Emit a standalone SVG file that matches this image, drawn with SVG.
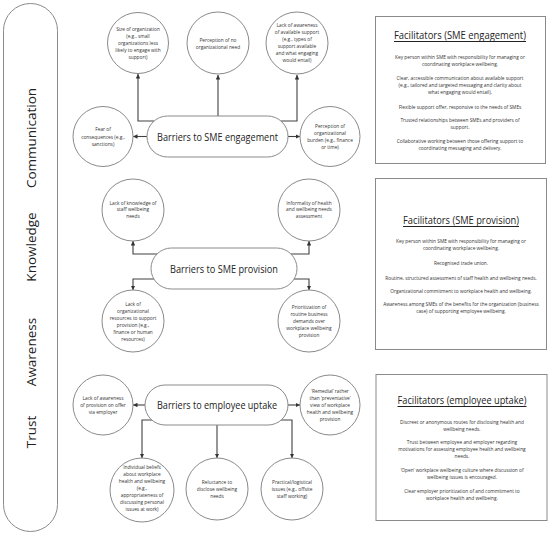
<svg xmlns="http://www.w3.org/2000/svg" width="550" height="534" viewBox="0 0 550 534">
<defs>
<marker id="ah" markerWidth="4.5" markerHeight="4.5" refX="4.5" refY="2.25" orient="auto" markerUnits="userSpaceOnUse"><path d="M0,0 L4.5,2.25 L0,4.5 z" fill="#333"/></marker>
</defs>
<style>
.band{fill:#fff;stroke:#8a8a8a;stroke-width:1}
.circ{fill:#fff;stroke:#8a8a8a;stroke-width:1}
.pill{fill:#fff;stroke:#8a8a8a;stroke-width:1}
.box{fill:#fff;stroke:#8a8a8a;stroke-width:1}
.conn{fill:none;stroke:#404040;stroke-width:1.1;marker-end:url(#ah)}
text{font-family:"Open Sans","Noto Sans",sans-serif;text-anchor:middle;dominant-baseline:central;fill:#333}
.ct{font-size:4.8px}
.lbl{font-size:10.5px;fill:#222}
.side{font-size:13.5px;fill:#222}
.ft{font-size:10px;text-decoration:underline;fill:#222}
.fb{font-size:4.8px}
</style>
<rect width="550" height="534" fill="#fff"/>
<g id="themes">
<rect class="band" x="3.5" y="3.5" width="54" height="528" rx="27" ry="27"/>
<text class="side" transform="translate(31,138) rotate(-90)">Communication</text>
<text class="side" transform="translate(31,247) rotate(-90)">Knowledge</text>
<text class="side" transform="translate(31,352) rotate(-90)">Awareness</text>
<text class="side" transform="translate(31,432) rotate(-90)">Trust</text>
</g>
<g id="connectors">
<path class="conn" d="M154,121 H138 V74"/>
<path class="conn" d="M218,116 V75"/>
<path class="conn" d="M281,121 H297 V75"/>
<path class="conn" d="M147,136.5 H133"/>
<path class="conn" d="M288,136.5 H300"/>
<path class="conn" d="M157,254 H133 V241"/>
<path class="conn" d="M291,254 H309 V241"/>
<path class="conn" d="M154,279 H133 V290"/>
<path class="conn" d="M294,279 H309 V290"/>
<path class="conn" d="M145,405 H133"/>
<path class="conn" d="M288,405 H300"/>
<path class="conn" d="M152,420 H142 V458"/>
<path class="conn" d="M217,425 V458"/>
<path class="conn" d="M281,420 H292 V458"/>
</g>
<g id="sme-engagement">
<rect class="pill" x="147" y="116" width="141" height="41" rx="20.5"/>
<text class="lbl" x="217.5" y="136.5" textLength="121" lengthAdjust="spacingAndGlyphs">Barriers to SME engagement</text>
</g>
<g id="size-org">
<circle class="circ" cx="138" cy="43" r="30.5"/>
<text class="ct"><tspan x="138" y="28.5">Size of organization</tspan><tspan x="138" y="35.5">(e.g., small</tspan><tspan x="138" y="42.5">organizations less</tspan><tspan x="138" y="49.5">likely to engage with</tspan><tspan x="138" y="56.5">support)</tspan></text>
</g>
<g id="no-need">
<circle class="circ" cx="218" cy="43" r="31"/>
<text class="ct"><tspan x="218" y="39.5">Perception of no</tspan><tspan x="218" y="46.5">organizational need</tspan></text>
</g>
<g id="lack-awareness-support">
<circle class="circ" cx="297" cy="43" r="31"/>
<text class="ct"><tspan x="297" y="25">Lack of awareness</tspan><tspan x="297" y="32">of available support</tspan><tspan x="297" y="39">(e.g., types of</tspan><tspan x="297" y="46">support available</tspan><tspan x="297" y="53">and what engaging</tspan><tspan x="297" y="60">would entail)</tspan></text>
</g>
<g id="fear">
<circle class="circ" cx="103" cy="136.5" r="30"/>
<text class="ct"><tspan x="103" y="129">Fear of</tspan><tspan x="103" y="136.5">consequences (e.g.,</tspan><tspan x="103" y="144">sanctions)</tspan></text>
</g>
<g id="burden">
<circle class="circ" cx="330" cy="136.5" r="30"/>
<text class="ct"><tspan x="330" y="126">Perception of</tspan><tspan x="330" y="133">organizational</tspan><tspan x="330" y="140">burden (e.g., finance</tspan><tspan x="330" y="147">or time)</tspan></text>
</g>
<g id="sme-provision">
<rect class="pill" x="151" y="248" width="146" height="41" rx="20.5"/>
<text class="lbl" x="224" y="268.5" textLength="108" lengthAdjust="spacingAndGlyphs">Barriers to SME provision</text>
</g>
<g id="lack-knowledge">
<circle class="circ" cx="133" cy="210" r="31"/>
<text class="ct"><tspan x="133" y="202.5">Lack of knowledge of</tspan><tspan x="133" y="209">staff wellbeing</tspan><tspan x="133" y="215.5">needs</tspan></text>
</g>
<g id="informality">
<circle class="circ" cx="309" cy="210" r="31"/>
<text class="ct"><tspan x="309" y="202.5">Informality of health</tspan><tspan x="309" y="209">and wellbeing needs</tspan><tspan x="309" y="215.5">assessment</tspan></text>
</g>
<g id="lack-resources">
<circle class="circ" cx="133" cy="321" r="31"/>
<text class="ct"><tspan x="133" y="303.5">Lack of</tspan><tspan x="133" y="310.5">organizational</tspan><tspan x="133" y="317.5">resources to support</tspan><tspan x="133" y="324.5">provision (e.g.,</tspan><tspan x="133" y="331.5">finance or human</tspan><tspan x="133" y="338.5">resources)</tspan></text>
</g>
<g id="prioritization">
<circle class="circ" cx="309" cy="321" r="31"/>
<text class="ct"><tspan x="309" y="307">Prioritization of</tspan><tspan x="309" y="314">routine business</tspan><tspan x="309" y="321">demands over</tspan><tspan x="309" y="328">workplace wellbeing</tspan><tspan x="309" y="335">provision</tspan></text>
</g>
<g id="employee-uptake">
<rect class="pill" x="145" y="385" width="143" height="40" rx="20"/>
<text class="lbl" x="217" y="405" textLength="120" lengthAdjust="spacingAndGlyphs">Barriers to employee uptake</text>
</g>
<g id="lack-awareness-provision">
<circle class="circ" cx="103" cy="405" r="30"/>
<text class="ct"><tspan x="103" y="398">Lack of awareness</tspan><tspan x="103" y="405">of provision on offer</tspan><tspan x="103" y="412">via employer</tspan></text>
</g>
<g id="remedial">
<circle class="circ" cx="330" cy="405" r="30"/>
<text class="ct"><tspan x="330" y="391">‘Remedial’ rather</tspan><tspan x="330" y="398">than ‘preventative’</tspan><tspan x="330" y="405">view of workplace</tspan><tspan x="330" y="412">health and wellbeing</tspan><tspan x="330" y="419">provision</tspan></text>
</g>
<g id="individual-beliefs">
<circle class="circ" cx="142" cy="490" r="32"/>
<text class="ct"><tspan x="142" y="467">Individual beliefs</tspan><tspan x="142" y="474">about workplace</tspan><tspan x="142" y="481">health and wellbeing</tspan><tspan x="142" y="488">(e.g.,</tspan><tspan x="142" y="495">appropriateness of</tspan><tspan x="142" y="502">discussing personal</tspan><tspan x="142" y="509">issues at work)</tspan></text>
</g>
<g id="reluctance">
<circle class="circ" cx="217" cy="489" r="31"/>
<text class="ct"><tspan x="217" y="482">Reluctance to</tspan><tspan x="217" y="489">disclose wellbeing</tspan><tspan x="217" y="496">needs</tspan></text>
</g>
<g id="practical">
<circle class="circ" cx="292" cy="489" r="31"/>
<text class="ct"><tspan x="292" y="482">Practical/logistical</tspan><tspan x="292" y="489">issues (e.g., offsite</tspan><tspan x="292" y="496">staff working)</tspan></text>
</g>
<g id="facilitators-engagement">
<rect class="box" x="375.5" y="16.5" width="170" height="147"/>
<text class="ft" x="460" y="35" textLength="132" lengthAdjust="spacingAndGlyphs">Facilitators (SME engagement)</text>
<text class="fb"><tspan x="460" y="57">Key person within SME with responsibility for managing or</tspan><tspan x="460" y="64">coordinating workplace wellbeing.</tspan><tspan x="460" y="78">Clear, accessible communication about available support</tspan><tspan x="460" y="85">(e.g., tailored and targeted messaging and clarity about</tspan><tspan x="460" y="92">what engaging would entail).</tspan><tspan x="460" y="107">Flexible support offer, responsive to the needs of SMEs</tspan><tspan x="460" y="120">Trusted relationships between SMEs and providers of</tspan><tspan x="460" y="127">support.</tspan><tspan x="460" y="141">Collaborative working between those offering support to</tspan><tspan x="460" y="148">coordinating messaging and delivery.</tspan></text>
</g>
<g id="facilitators-provision">
<rect class="box" x="375.5" y="178.5" width="171" height="171"/>
<text class="ft" x="461" y="220" textLength="116" lengthAdjust="spacingAndGlyphs">Facilitators (SME provision)</text>
<text class="fb"><tspan x="461" y="241">Key person within SME with responsibility for managing or</tspan><tspan x="461" y="247.5">coordinating workplace wellbeing.</tspan><tspan x="461" y="263">Recognised trade union.</tspan><tspan x="461" y="278">Routine, structured assessment of staff health and wellbeing needs.</tspan><tspan x="461" y="291">Organizational commitment to workplace health and wellbeing.</tspan><tspan x="461" y="304">Awareness among SMEs of the benefits for the organization (business</tspan><tspan x="461" y="311">case) of supporting employee wellbeing.</tspan></text>
</g>
<g id="facilitators-uptake">
<rect class="box" x="376" y="374.5" width="171" height="146"/>
<text class="ft" x="462" y="400" textLength="129" lengthAdjust="spacingAndGlyphs">Facilitators (employee uptake)</text>
<text class="fb"><tspan x="462" y="422">Discreet or anonymous routes for disclosing health and</tspan><tspan x="462" y="428.5">wellbeing needs.</tspan><tspan x="462" y="442">Trust between employee and employer regarding</tspan><tspan x="462" y="449">motivations for assessing employee health and wellbeing</tspan><tspan x="462" y="456">needs.</tspan><tspan x="462" y="469.5">‘Open’ workplace wellbeing culture where discussion of</tspan><tspan x="462" y="476.5">wellbeing issues is encouraged.</tspan><tspan x="462" y="491">Clear employer prioritization of and commitment to</tspan><tspan x="462" y="498">workplace health and wellbeing.</tspan></text>
</g>
</svg>
